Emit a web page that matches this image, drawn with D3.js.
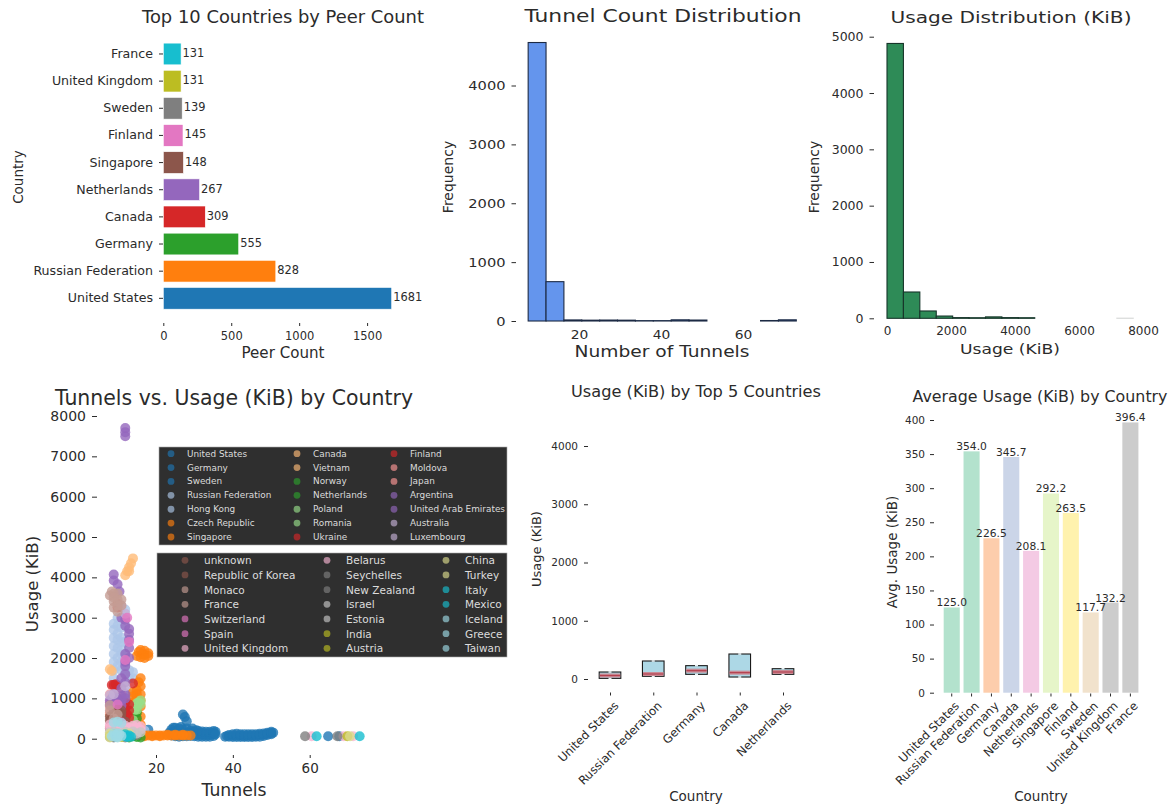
<!DOCTYPE html>
<html>
<head>
<meta charset="utf-8">
<script src="https://cdn.jsdelivr.net/npm/d3@7"></script>
<style>
  html, body { margin: 0; padding: 0; background: #fff; }
  svg { display: block; }
  text { font-family: "DejaVu Sans", sans-serif; fill: #2b2b2b; }
</style>
</head>
<body>
<svg id="chart" width="1175" height="807"></svg>
<script>
// top 10 by peers
const peerCountries = ['United States', 'Russian Federation', 'Germany', 'Canada', 'Netherlands', 'Singapore', 'Finland', 'Sweden', 'United Kingdom', 'France'];
const peerCounts = [1681, 828, 555, 309, 267, 148, 145, 139, 131, 131];

// histograms
const tunnelBinStart = 7.6;
const tunnelBinWidth = 4.36;
const tunnelBins = [4730, 668, 18, 14, 16, 14, 6, 6, 20, 16, 0, 0, 0, 8, 20];
const usageBinStart = 0;
const usageBinWidth = 513;
const usageBins = [4880, 467, 130, 40, 12, 10, 25, 12, 10, 0, 0, 0, 0, 0, 3];

// box plot
const boxCountries = ['United States', 'Russian Federation', 'Germany', 'Canada', 'Netherlands'];
const boxQ1 = [11, 46, 80, 34, 80];
const boxMedian = [60, 86, 143, 109, 120];
const boxQ3 = [120, 309, 229, 429, 177];

// average usage
const avgValues = [125.0, 354.0, 226.5, 345.7, 208.1, 292.2, 263.5, 117.7, 132.2, 396.4];
const avgColors = ['#b3e2cd', '#b3e2cd', '#fdcdac', '#cbd5e8', '#f4cae4', '#e6f5c9', '#fff2ae', '#f1e2cc', '#cccccc', '#cccccc'];

// scatter legends
const legendOne = ['United States', 'Germany', 'Sweden', 'Russian Federation', 'Hong Kong', 'Czech Republic', 'Singapore',
  'Canada', 'Vietnam', 'Norway', 'Netherlands', 'Poland', 'Romania', 'Ukraine',
  'Finland', 'Moldova', 'Japan', 'Argentina', 'United Arab Emirates', 'Australia', 'Luxembourg'];
const legendOneColors = [0, 0, 0, 1, 1, 2, 2, 3, 3, 4, 4, 5, 5, 6, 6, 7, 7, 8, 8, 9, 9];
const legendTwo = ['unknown', 'Republic of Korea', 'Monaco', 'France', 'Switzerland', 'Spain', 'United Kingdom',
  'Belarus', 'Seychelles', 'New Zealand', 'Israel', 'Estonia', 'India', 'Austria',
  'China', 'Turkey', 'Italy', 'Mexico', 'Iceland', 'Greece', 'Taiwan'];
const legendTwoColors = [10, 10, 11, 11, 12, 12, 13, 13, 14, 14, 15, 15, 16, 16, 17, 17, 18, 18, 19, 19, 19];
const tab20 = ['#1f77b4', '#aec7e8', '#ff7f0e', '#ffbb78', '#2ca02c', '#98df8a', '#d62728', '#ff9896', '#9467bd', '#c5b0d5',
  '#8c564b', '#c49c94', '#e377c2', '#f7b6d2', '#7f7f7f', '#c7c7c7', '#bcbd22', '#dbdb8d', '#17becf', '#9edae5'];

// scatter points [tunnels, usage], one list per colour
const ptsBlue = [[9,40],[11,70],[14,60],[16,120],[18,220],[23.5,150],[24,80],[24,220],[24.5,270],[25,60],[25,180],[25,270],[26,120],[26,50],[26,250],[26.5,290],[27,60],[27,150],[27,230],[27,600],[27.5,540],[28,430],[28,140],[28,250],[28,60],[29,70],[29,140],[29,200],[29.5,250],[30,60],[30,120],[30,170],[30.5,210],[31,50],[31,100],[31,130],[31,190],[32,50],[32,100],[32,140],[32,180],[33,50],[33,90],[33,120],[33,170],[34,50],[34,90],[34,130],[34,170],[35,70],[35,110],[35,150],[35,190],[35.5,170],[35.5,110],[38,50],[38.5,70],[39,50],[39,90],[40,40],[40,80],[40,110],[41,40],[41,80],[41,120],[42,40],[42,80],[42,110],[43,40],[43,70],[43,110],[44,40],[44,80],[44,110],[45,40],[45,80],[45,110],[46,50],[46,80],[46,110],[47,50],[47,90],[47,120],[48,70],[48,100],[48,130],[49,90],[49,120],[49,150],[50,110],[50,140],[50,170],[50.5,150],[64.8,60],[67.7,60]];
const ptsLightBlue = [[9,1900],[9,2100],[9,2300],[9,2500],[9,2700],[9,2850],[9,1500],[10,1800],[10,2000],[10,2250],[10,2450],[10,2600],[10,2800],[11,1700],[11,1900],[11,2100],[11,2200],[11,2400],[11,2500],[11,2750],[12,1650],[12,1850],[12,2100],[12,2400],[12,3200],[12,3000],[13,1500],[13,1700],[11,3250],[10,3000],[14,1500],[14,1650],[9,1700],[12,1200],[13,1100],[17,200],[16,250]];
const ptsOrange = [[14,700],[14,900],[14,800],[14,1050],[15,500],[15,600],[15,700],[15,800],[15,900],[15,1000],[15,1100],[15,1200],[15.5,1400],[16,1300],[16,1500],[16,1100],[16,950],[16,800],[16,550],[16,350],[16,2020],[16.5,2100],[17,2080],[17,2180],[18,2120],[18,2050],[15,2050],[15.5,2150],[16,2200],[17,2000],[16,80],[17,80],[18,80],[19,80],[20,80],[21,80],[22,80],[23,80],[24,80],[25,80],[26,80],[27,80],[28,80],[29,80],[17,60],[19,60],[21,60],[23,100],[25,100],[27,100],[14,1150]];
const ptsLightOrange = [[12,4050],[12.5,4150],[13,4250],[13.5,4350],[14,4470],[13,4150],[8,1720],[8.5,1680],[8,600],[15,250]];
const ptsGreen = [[15,650],[15,500],[14,60],[15,40],[13,30],[16,30],[14,400]];
const ptsLightGreen = [[15,800],[15.5,900],[16,950],[14.5,720],[13,300],[14,460],[15,880],[14,800],[15,720],[16,860]];
const ptsRed = [[10,3350],[10,3250],[8.5,1330],[9.5,1350],[10,1320],[14,1370],[9,1330],[12,750],[12.5,600],[13,700],[12,900],[12,500],[13,520],[13,850],[12,620],[11,600]];
const ptsPink = [[8,300],[8,650],[9,820],[9,1050],[10,300],[11,1100],[8,900],[8,1100],[8,800],[9,650]];
const ptsPurple = [[12,7500],[12,7600],[12,7700],[9,4070],[9,3920],[10,3830],[10.5,3650],[11,3000],[12,2950],[12,2800],[13,2720],[13,2600],[13,2250],[13,2000],[12,1800],[12,1600],[11,1500],[11,1250],[8.5,1000],[9,1100],[9,900],[10,800],[10,1000],[10,900],[11,950],[11,820],[12,1000],[9,720],[8,950],[8,850],[9,1000],[11,1050],[12,1100],[12,1400],[12,2100],[12,1900],[13,2450]];
const ptsLightPurple = [[11,3300],[12,3100],[12,1300],[9,1100],[8,1080]];
const ptsBrown = [[8,450],[8,550],[9,550],[9,430],[10,650],[10,720],[11,700],[10,450],[11,500],[11,620],[9,300],[12,420],[8,250],[9,650]];
const ptsLightBrown = [[8,3550],[9,3400],[9,3600],[9,3250],[10,3150],[10,3450],[10,3600],[11,3300],[11,3450],[8.5,3650],[10,3300],[9,3500],[9,500],[10,600],[8,700],[8,830]];
const ptsMagenta = [[13,2400],[12,1950],[12.5,3000],[8,100],[11,400],[10,850]];
const ptsLightPink = [[8,270],[9,250],[10,330],[11,280],[12,320],[13,270],[14,320],[15,270],[16,300],[9,350],[11,220],[13,190],[15,170],[12,250],[8,350],[10,260],[14,250],[15,340],[16,230],[60.5,60],[68.8,60],[71.3,60]];
const ptsGray = [[8,40],[9,30],[15,90],[58.8,60],[67.2,60],[12,30],[14,100]];
const ptsLightGray = [[8,160],[10,150],[12,170],[14,180],[16,160],[13,100],[11,120],[15,130],[9,170]];
const ptsOlive = [[8,70],[9,110],[10,90],[11,40],[69.8,60]];
const ptsLightOlive = [[8,120],[9,80],[10,40],[13,130],[12,120],[8,30],[70.5,60]];
const ptsCyan = [[12,60],[13,80],[13.5,50],[12.5,40],[12,110],[61.8,60],[73,60]];
const ptsLightCyan = [[9.5,90],[10,60],[10.5,110],[11,70],[9,400],[10,420],[11,390],[9.5,40],[9,130],[8.5,60],[10,30],[10,120]];
const scatterSets = [ptsBlue, ptsLightBlue, ptsOrange, ptsLightOrange, ptsGreen, ptsLightGreen, ptsRed, ptsPink, ptsPurple, ptsLightPurple,
  ptsBrown, ptsLightBrown, ptsMagenta, ptsLightPink, ptsGray, ptsLightGray, ptsOlive, ptsLightOlive, ptsCyan, ptsLightCyan];

const svg = d3.select('#chart');
const plain = d3.format('d');

function styleAxis(g, size) {
  g.select('.domain').remove();
  g.selectAll('.tick line').attr('stroke', '#2b2b2b').attr('stroke-width', 1);
  g.selectAll('.tick text').attr('font-size', size).attr('fill', '#2b2b2b');
}

function label(txt, x, y, size, rotate) {
  const t = svg.append('text')
    .attr('text-anchor', 'middle')
    .attr('dominant-baseline', 'central')
    .attr('font-size', size)
    .text(txt);
  t.attr('transform', `translate(${x},${y})` + (rotate ? ' rotate(-90)' : ''));
  return t;
}

// stretch a text to a width measured in the picture
function fit(t, width) {
  return t.attr('textLength', width).attr('lengthAdjust', 'spacingAndGlyphs');
}

function stretchTicks(g, factor) {
  g.selectAll('.tick text').each(function () {
    d3.select(this).attr('textLength', this.getComputedTextLength() * factor).attr('lengthAdjust', 'spacingAndGlyphs');
  });
}

// ---- top 10 countries
{
  const x = d3.scaleLinear().domain([0, 1681]).range([163.3, 391.7]);
  const y = d3.scaleBand().domain(peerCountries).range([311.9, 40.4]).paddingInner(0.2).paddingOuter(0.1);

  svg.append('g').selectAll('rect').data(peerCountries).enter().append('rect')
    .attr('x', x(0))
    .attr('y', d => y(d))
    .attr('width', (d, i) => x(peerCounts[i]) - x(0))
    .attr('height', y.bandwidth())
    .attr('fill', (d, i) => d3.schemeCategory10[i])
    .attr('stroke', '#fff')
    .attr('stroke-width', 0.6);

  svg.append('g').selectAll('text').data(peerCountries).enter().append('text')
    .attr('x', (d, i) => x(peerCounts[i]) + 1.5)
    .attr('y', d => y(d) + y.bandwidth() / 2 - 1)
    .attr('dominant-baseline', 'central')
    .attr('font-size', 11.4)
    .text((d, i) => peerCounts[i]);

  const ax = svg.append('g').attr('transform', 'translate(0,323)')
    .call(d3.axisBottom(x).tickValues([0, 500, 1000, 1500]).tickFormat(plain).tickSize(3).tickSizeOuter(0).tickPadding(6));
  styleAxis(ax, 11.5);
  const ay = svg.append('g').attr('transform', 'translate(163,0)')
    .call(d3.axisLeft(y).tickSize(4).tickPadding(6));
  styleAxis(ay, 12.6);

  fit(label('Top 10 Countries by Peer Count', 283, 17, 17), 282);
  fit(label('Peer Count', 283, 353, 15), 83);
  label('Country', 18, 177, 13.5, true);
}

// ---- tunnel histogram
{
  const x = d3.scaleLinear().domain([20, 60]).range([579, 743]);
  const y = d3.scaleLinear().domain([0, 4000]).range([321, 85.5]);

  svg.append('g').selectAll('rect').data(tunnelBins).enter().append('rect')
    .attr('x', (d, i) => x(tunnelBinStart + i * tunnelBinWidth))
    .attr('y', d => y(d))
    .attr('width', x(tunnelBinStart + tunnelBinWidth) - x(tunnelBinStart))
    .attr('height', d => y(0) - y(d))
    .attr('fill', '#6495ed')
    .attr('stroke', d => d === 0 ? '#ddd' : '#1c2a44')
    .attr('stroke-width', 1.1);

  const ax = svg.append('g').attr('transform', 'translate(0,325)')
    .call(d3.axisBottom(x).tickValues([20, 40, 60]).tickFormat(plain).tickSize(0).tickPadding(5));
  styleAxis(ax, 12);
  stretchTicks(ax, 1.15);
  const ay = svg.append('g').attr('transform', 'translate(516,0)')
    .call(d3.axisLeft(y).tickValues([0, 1000, 2000, 3000, 4000]).tickFormat(plain).tickSize(4.5).tickPadding(6));
  styleAxis(ay, 12.5);
  stretchTicks(ay, 1.17);

  fit(label('Tunnel Count Distribution', 663, 16, 17), 277);
  fit(label('Number of Tunnels', 662, 352, 15), 175);
  label('Frequency', 448, 177, 14, true);
}

// ---- usage histogram
{
  const x = d3.scaleLinear().domain([0, 8000]).range([887, 1143]);
  const y = d3.scaleLinear().domain([0, 5000]).range([318.3, 36.7]);

  svg.append('g').selectAll('rect').data(usageBins).enter().append('rect')
    .attr('x', (d, i) => x(usageBinStart + i * usageBinWidth))
    .attr('y', d => y(d))
    .attr('width', x(usageBinWidth) - x(0))
    .attr('height', d => y(0) - y(d))
    .attr('fill', '#2e8b57')
    .attr('stroke', d => d < 5 ? '#ddd' : '#17352a')
    .attr('stroke-width', 1.1);

  const ax = svg.append('g').attr('transform', 'translate(0,320)')
    .call(d3.axisBottom(x).tickValues([0, 2000, 4000, 6000, 8000]).tickFormat(plain).tickSize(0).tickPadding(6));
  styleAxis(ax, 12);
  const ay = svg.append('g').attr('transform', 'translate(874,0)')
    .call(d3.axisLeft(y).tickValues([0, 1000, 2000, 3000, 4000, 5000]).tickFormat(plain).tickSize(4.5).tickPadding(6));
  styleAxis(ay, 12.5);

  fit(label('Usage Distribution (KiB)', 1011, 17, 16.5), 241);
  fit(label('Usage (KiB)', 1010, 349, 14.5), 100);
  label('Frequency', 814, 177, 14, true);
}

// ---- scatter
{
  const x = d3.scaleLinear().domain([20, 60]).range([156, 309.7]);
  const y = d3.scaleLinear().domain([0, 8000]).range([738.7, 416]);

  scatterSets.forEach((pts, i) => {
    svg.append('g').selectAll('circle').data(pts).enter().append('circle')
      .attr('cx', d => x(d[0]))
      .attr('cy', d => y(d[1]))
      .attr('r', 5)
      .attr('fill', tab20[i])
      .attr('opacity', 0.8);
  });

  const ax = svg.append('g').attr('transform', 'translate(0,755)')
    .call(d3.axisBottom(x).tickValues([20, 40, 60]).tickFormat(plain).tickSize(3).tickPadding(5));
  styleAxis(ax, 13.5);
  const ay = svg.append('g').attr('transform', 'translate(97,0)')
    .call(d3.axisLeft(y).tickValues(d3.range(0, 8001, 1000)).tickFormat(plain).tickSize(5).tickPadding(6));
  styleAxis(ay, 14);

  fit(label('Tunnels vs. Usage (KiB) by Country', 234, 398, 21), 358);
  fit(label('Tunnels', 234, 790, 17.5), 65);
  label('Usage (KiB)', 32, 584, 16.5, true);

  drawLegend(legendOne, legendOneColors, { x: 159, y: 447, w: 348, h: 98, marks: [171, 297, 394], texts: [187, 313, 410], top: 453.7, bottom: 537, size: 8.9 });
  drawLegend(legendTwo, legendTwoColors, { x: 157, y: 553, w: 350, h: 104, marks: [185, 327, 446], texts: [204, 346, 465], top: 560.3, bottom: 648.3, size: 10.5 });
}

function drawLegend(names, colors, box) {
  svg.append('rect')
    .attr('x', box.x).attr('y', box.y)
    .attr('width', box.w).attr('height', box.h)
    .attr('fill', '#2f2f2f')
    .attr('stroke', '#aaa').attr('stroke-width', 0.6);
  const row = d3.scaleLinear().domain([0, 6]).range([box.top, box.bottom]);
  const g = svg.append('g').selectAll('g').data(names).enter().append('g')
    .attr('transform', (d, i) => `translate(0,${row(i % 7)})`);
  g.append('circle')
    .attr('cx', (d, i) => box.marks[Math.floor(i / 7)])
    .attr('r', 3.4)
    .attr('fill', (d, i) => tab20[colors[i]])
    .attr('opacity', 0.65);
  g.append('text')
    .attr('x', (d, i) => box.texts[Math.floor(i / 7)])
    .attr('dominant-baseline', 'central')
    .attr('font-size', box.size)
    .style('fill', '#dcdcdc')
    .text(d => d);
}

// ---- box plot
{
  const x = d3.scalePoint().domain(boxCountries).range([610, 783]);
  const y = d3.scaleLinear().domain([0, 4000]).range([679, 446]);
  const half = 10.8;

  const boxes = svg.append('g').selectAll('g').data(boxCountries).enter().append('g');
  boxes.append('rect')
    .attr('x', d => x(d) - half)
    .attr('y', (d, i) => y(boxQ3[i]))
    .attr('width', half * 2)
    .attr('height', (d, i) => y(boxQ1[i]) - y(boxQ3[i]))
    .attr('fill', '#add8e6')
    .attr('stroke', '#1a1a1a')
    .attr('stroke-width', 1.1);
  // notch gaps on the top and bottom edges
  [boxQ3, boxQ1].forEach(vals => {
    boxes.append('line')
      .attr('x1', d => x(d) - 1.5).attr('x2', d => x(d) + 1.5)
      .attr('y1', (d, i) => y(vals[i])).attr('y2', (d, i) => y(vals[i]))
      .attr('stroke', '#e8f2f5').attr('stroke-width', 1.6);
  });
  boxes.append('line')
    .attr('x1', d => x(d) - half + 0.6).attr('x2', d => x(d) + half - 0.6)
    .attr('y1', (d, i) => y(boxMedian[i])).attr('y2', (d, i) => y(boxMedian[i]))
    .attr('stroke', '#c98a94').attr('stroke-width', 4);
  boxes.append('line')
    .attr('x1', d => x(d) - half + 0.6).attr('x2', d => x(d) + half - 0.6)
    .attr('y1', (d, i) => y(boxMedian[i])).attr('y2', (d, i) => y(boxMedian[i]))
    .attr('stroke', '#b5404f').attr('stroke-width', 1.2);

  const ax = svg.append('g').attr('transform', 'translate(0,692.5)')
    .call(d3.axisBottom(x).tickSize(3).tickPadding(4));
  styleAxis(ax, 11.8);
  ax.selectAll('.tick text')
    .attr('text-anchor', 'end')
    .attr('transform', 'translate(-2,3) rotate(-45)');
  const ay = svg.append('g').attr('transform', 'translate(588,0)')
    .call(d3.axisLeft(y).tickValues([0, 1000, 2000, 3000, 4000]).tickFormat(plain).tickSize(4).tickPadding(6));
  styleAxis(ay, 10.5);

  fit(label('Usage (KiB) by Top 5 Countries', 696, 392, 15), 250);
  label('Usage (KiB)', 536, 549, 13, true);
  label('Country', 696, 796, 13.5);
}

// ---- average usage
{
  const x = d3.scaleBand().domain(peerCountries).range([941.8, 1140.3]).paddingInner(0.19).paddingOuter(0.095);
  const y = d3.scaleLinear().domain([0, 400]).range([692.7, 420]);

  svg.append('g').selectAll('rect').data(peerCountries).enter().append('rect')
    .attr('x', d => x(d))
    .attr('y', (d, i) => y(avgValues[i]))
    .attr('width', x.bandwidth())
    .attr('height', (d, i) => y(0) - y(avgValues[i]))
    .attr('fill', (d, i) => avgColors[i]);

  svg.append('g').selectAll('text').data(peerCountries).enter().append('text')
    .attr('x', d => x(d) + x.bandwidth() / 2)
    .attr('y', (d, i) => y(avgValues[i]) - 1)
    .attr('text-anchor', 'middle')
    .attr('font-size', 10.7)
    .text((d, i) => avgValues[i].toFixed(1));

  const ax = svg.append('g').attr('transform', 'translate(0,693.5)')
    .call(d3.axisBottom(x).tickSize(3).tickPadding(3));
  styleAxis(ax, 11.8);
  ax.selectAll('.tick text')
    .attr('text-anchor', 'end')
    .attr('transform', 'translate(-2,3) rotate(-45)');
  const ay = svg.append('g').attr('transform', 'translate(934,0)')
    .call(d3.axisLeft(y).tickValues(d3.range(0, 401, 50)).tickFormat(plain).tickSize(4).tickPadding(5));
  styleAxis(ay, 10.5);

  fit(label('Average Usage (KiB) by Country', 1040, 397, 15.3), 255);
  label('Avg. Usage (KiB)', 892, 552, 13.5, true);
  label('Country', 1041, 796, 13.5);
}
</script>
</body>
</html>
